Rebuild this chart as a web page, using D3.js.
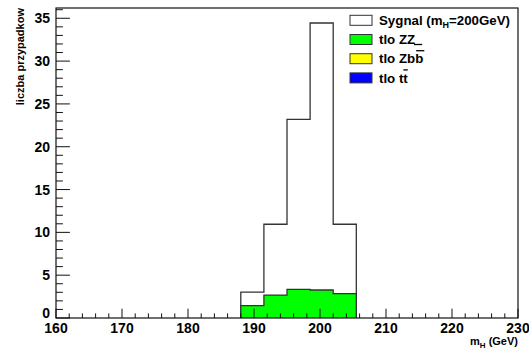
<!DOCTYPE html>
<html>
<head>
<meta charset="utf-8">
<script src="https://cdn.jsdelivr.net/npm/d3@7"></script>
<style>
  html, body { margin: 0; padding: 0; background: #fff; }
  svg { display: block; }
  text { font-family: "Liberation Sans", Arial, Helvetica, sans-serif; font-weight: bold; fill: #000; }
</style>
</head>
<body>
<svg id="chart" width="529" height="350"></svg>
<script>
// Histogram binning: 20 bins of 3.5 GeV between 160 and 230 GeV
const binEdges = d3.range(0, 21).map(i => 160 + i * 3.5);

// Bin contents (events per bin)
const signal = [0,0,0,0,0,0,0,0, 3.03, 10.95, 23.2, 34.45, 10.95, 0,0,0,0,0,0,0];
const bgZZ   = [0,0,0,0,0,0,0,0, 1.45, 2.68, 3.35, 3.27, 2.85, 0,0,0,0,0,0,0];
const bgZbb  = [0,0,0,0,0,0,0,0, 0, 0, 0, 0, 0, 0,0,0,0,0,0,0];
const bgTT   = [0,0,0,0,0,0,0,0, 0, 0, 0, 0, 0, 0,0,0,0,0,0,0];

const xTicks = [160, 170, 180, 190, 200, 210, 220, 230];
const yTicks = [0, 5, 10, 15, 20, 25, 30, 35];

const svg = d3.select("#chart");
const frame = { left: 56, right: 518, top: 8, bottom: 318 };

const x = d3.scaleLinear().domain([160, 230]).range([frame.left, frame.right]);
const y = d3.scaleLinear().domain([0, 36.2]).range([frame.bottom, frame.top]);

// Step outline of a histogram, closed down to zero
function histPath(vals) {
  const p = d3.path();
  let started = false;
  vals.forEach((v, i) => {
    if (v <= 0) return;
    const x0 = x(binEdges[i]), x1 = x(binEdges[i + 1]);
    if (!started) { p.moveTo(x0, y(0)); started = true; }
    p.lineTo(x0, y(v));
    p.lineTo(x1, y(v));
    const next = vals[i + 1] || 0;
    if (next <= 0) p.lineTo(x1, y(0));
  });
  return p.toString();
}

const series = [
  { name: "signal", vals: signal, fill: "#ffffff" },
  { name: "zz", vals: bgZZ, fill: "#00ff00" },
  { name: "zbb", vals: bgZbb, fill: "#ffff00" },
  { name: "tt", vals: bgTT, fill: "#0000ff" }
];

const hg = svg.append("g");
series.forEach(s => {
  if (d3.max(s.vals) <= 0) return;
  hg.append("path")
    .attr("d", histPath(s.vals))
    .attr("fill", s.fill)
    .attr("stroke", "#333")
    .attr("stroke-width", 1.3);
});

// Frame
svg.append("rect")
  .attr("x", frame.left).attr("y", frame.top)
  .attr("width", frame.right - frame.left).attr("height", frame.bottom - frame.top)
  .attr("fill", "none").attr("stroke", "#111").attr("stroke-width", 1.2);

// X axis ticks: major every 10, minor every 2
const xMinor = d3.range(160, 230.01, 2);
svg.append("g").selectAll("line").data(xMinor).join("line")
  .attr("x1", d => x(d)).attr("x2", d => x(d))
  .attr("y1", frame.bottom)
  .attr("y2", d => frame.bottom - (d % 10 === 0 ? 9.3 : 4.6))
  .attr("stroke", "#111").attr("stroke-width", 1);

svg.append("g").selectAll("text").data(xTicks).join("text")
  .attr("x", d => x(d)).attr("y", 333)
  .attr("text-anchor", "middle")
  .attr("font-size", 14)
  .text(d => d);

// Y axis ticks: major every 5, minor every 1
const yMinor = d3.range(0, 36.01, 1);
svg.append("g").selectAll("line").data(yMinor).join("line")
  .attr("x1", frame.left)
  .attr("x2", d => frame.left + (d % 5 === 0 ? 13.9 : 6.9))
  .attr("y1", d => y(d)).attr("y2", d => y(d))
  .attr("stroke", "#111").attr("stroke-width", 1);

svg.append("g").selectAll("text").data(yTicks).join("text")
  .attr("x", 50).attr("y", d => d === 0 ? y(d) - 5 : y(d))
  .attr("dy", "0.36em")
  .attr("text-anchor", "end")
  .attr("font-size", 14)
  .text(d => d);

// Axis titles
const xt = svg.append("text")
  .attr("x", frame.right).attr("y", 345)
  .attr("text-anchor", "end")
  .attr("font-size", 11);
xt.append("tspan").text("m");
xt.append("tspan").attr("font-size", 8).attr("dy", 3).text("H");
xt.append("tspan").attr("dy", -3).text(" (GeV)");

svg.append("text")
  .attr("transform", "translate(24,8) rotate(-90)")
  .attr("text-anchor", "end")
  .attr("font-size", 11)
  .text("liczba przypadkow");

// Legend
const legend = [
  { key: "signal", fill: "#ffffff" },
  { key: "zz", fill: "#00ff00" },
  { key: "zbb", fill: "#ffff00" },
  { key: "tt", fill: "#0000ff" }
];
const lg = svg.append("g");
const rowY = i => 20.3 + i * 19.2;
legend.forEach((d, i) => {
  lg.append("rect")
    .attr("x", 350).attr("y", rowY(i) - 5)
    .attr("width", 22).attr("height", 10)
    .attr("fill", d.fill).attr("stroke", "#333").attr("stroke-width", 1);
});

const fs = 13.3;
function legendText(i) {
  return lg.append("text").attr("x", 379).attr("y", rowY(i)).attr("dy", "0.36em").attr("font-size", fs);
}
// Row 0: signal
const t0 = legendText(0);
t0.append("tspan").text("Sygnal (m");
t0.append("tspan").attr("font-size", 9).attr("dy", 3).text("H");
t0.append("tspan").attr("dy", -3).text("=200GeV)");

// Row 1: ZZ background
const t1 = legendText(1).text("tlo ZZ");
// Row 2: Z b b-bar background
const t2 = legendText(2).text("tlo Zbb");
// Row 3: t t-bar background
const t3 = legendText(3).text("tlo tt");

// Bars drawn over/next to the last character of the labels
function barOver(t, i, yOff, extra) {
  const node = t.node();
  const n = node.getNumberOfChars();
  const start = node.getStartPositionOfChar(n - 1);
  const end = node.getEndPositionOfChar(n - 1);
  lg.append("line")
    .attr("x1", start.x + (extra || 0)).attr("x2", end.x + (extra || 0))
    .attr("y1", rowY(i) + yOff).attr("y2", rowY(i) + yOff)
    .attr("stroke", "#000").attr("stroke-width", 1.3);
}
barOver(t1, 1, 5, 7);
barOver(t2, 2, -8, 1);
barOver(t3, 3, -8, 0);
</script>
</body>
</html>
